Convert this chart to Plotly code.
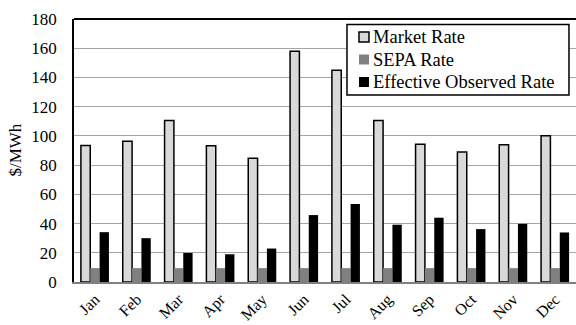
import plotly.graph_objects as go

months = ["Jan", "Feb", "Mar", "Apr", "May", "Jun", "Jul", "Aug", "Sep", "Oct", "Nov", "Dec"]
market_rate = [93.4, 96.4, 110.6, 93.2, 84.7, 158.0, 144.9, 110.6, 94.3, 88.9, 93.9, 100.1]
sepa_rate = [9.5, 9.5, 9.5, 9.5, 9.5, 9.5, 9.5, 9.5, 9.5, 9.5, 9.5, 9.5]
effective_rate = [34.1, 30.0, 19.9, 19.0, 22.9, 45.8, 53.4, 39.2, 44.0, 36.2, 39.8, 33.9]
y_ticks = [0, 20, 40, 60, 80, 100, 120, 140, 160, 180]

series_names = ["Market Rate", "SEPA Rate", "Effective Observed Rate"]
series_fill = ["#d9d9d9", "#808080", "black"]
series_edge = ["black", "#808080", "black"]

FONT = "'Liberation Serif', 'Times New Roman', serif"

fig = go.Figure()
for name, vals, fill, edge in zip(series_names, [market_rate, sepa_rate, effective_rate],
                                  series_fill, series_edge):
    fig.add_trace(go.Bar(x=months, y=vals, name=name,
                         marker=dict(color=fill,
                                     line=dict(color=edge, width=1.5 if fill == "#d9d9d9" else 0))))

fig.update_layout(
    width=576, height=325,
    margin=dict(l=74, r=0, t=19, b=43),
    barmode="group", bargap=0.33, bargroupgap=0,
    paper_bgcolor="white", plot_bgcolor="white",
    font=dict(family=FONT, size=17, color="black"),
    showlegend=False,
    xaxis=dict(tickangle=-45, showline=True, linecolor="#808080", linewidth=1.5,
               ticks="", showgrid=False, tickfont=dict(family=FONT, size=16)),
    # long transparent ticks push the labels away from the axis line
    yaxis=dict(range=[0, 180], tickvals=y_ticks, showgrid=True, gridcolor="#a6a6a6",
               gridwidth=1, showline=True, linecolor="black", linewidth=1.5,
               ticks="outside", ticklen=12, tickcolor="rgba(0,0,0,0)",
               tickfont=dict(family=FONT, size=17),
               zeroline=False),
)

# y-axis title
fig.add_annotation(text="$/MWh", xref="paper", yref="paper", x=-0.1175, y=0.5,
                   xanchor="center", yanchor="middle", textangle=-90, showarrow=False,
                   font=dict(family=FONT, size=17, color="black"))

# black frame line along the top of the plot area
fig.add_shape(type="line", xref="paper", yref="paper", x0=0, x1=1, y0=1, y1=1,
              line=dict(color="black", width=2))

# legend box drawn by hand so the swatches sit right next to the labels
fig.add_shape(type="rect", xref="paper", yref="paper", layer="above",
              x0=0.5438, x1=0.986, y0=0.711, y1=0.979,
              fillcolor="white", line=dict(color="black", width=1.5))
row_y = [0.9316, 0.846, 0.7605]
for name, fill, edge, yc in zip(series_names, series_fill, series_edge, row_y):
    fig.add_shape(type="rect", xref="paper", yref="paper", layer="above",
                  x0=0.5677, x1=0.5876, y0=yc - 0.019, y1=yc + 0.019,
                  fillcolor=fill,
                  line=dict(color=edge, width=1.5 if fill == "#d9d9d9" else 0))
    fig.add_annotation(text=name, xref="paper", yref="paper", x=0.5916, y=yc,
                       xanchor="left", yanchor="middle", showarrow=False,
                       font=dict(family=FONT, size=18.5, color="black"))

fig.write_html("out.html")
